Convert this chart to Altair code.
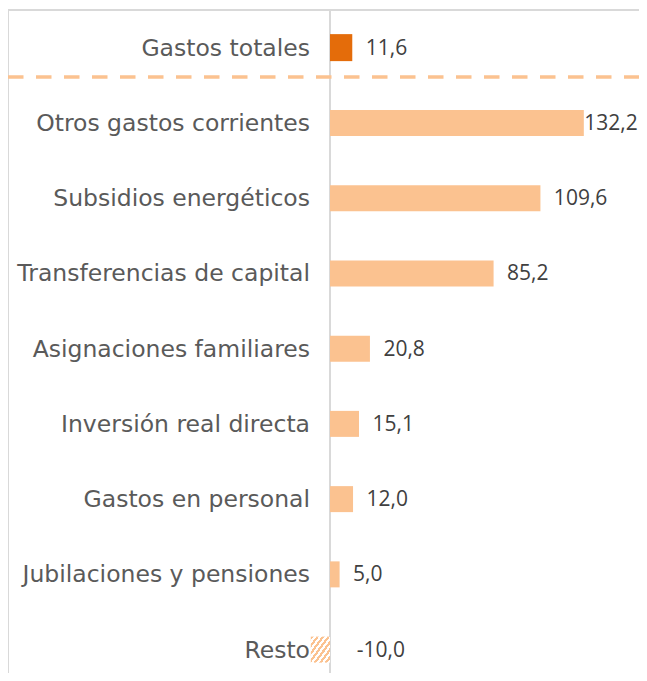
import altair as alt
import pandas as pd

categories = ["Gastos totales", "Otros gastos corrientes", "Subsidios energéticos",
              "Transferencias de capital", "Asignaciones familiares",
              "Inversión real directa", "Gastos en personal",
              "Jubilaciones y pensiones", "Resto"]
values = [11.6, 132.2, 109.6, 85.2, 20.8, 15.1, 12.0, 5.0, -10.0]
groups = ["total", "comp", "comp", "comp", "comp", "comp", "comp", "comp", "resto"]

df = pd.DataFrame({"cat": categories, "value": values, "group": groups})

W = 630
H = 663
STEP = 75.25
PX_PER_UNIT = 1.92
ZERO_PX = 321
x_dom = [-ZERO_PX / PX_PER_UNIT, (W - ZERO_PX) / PX_PER_UNIT]

CAT_FONT = "DejaVu Sans"
VAL_FONT = "Open Sans"
LIGHT = "#FBC290"
DARK = "#E46C0A"
GRID = "#D9D9D9"

xs = alt.Scale(domain=x_dom, nice=False, zero=False)
ys = alt.Scale(domain=categories, range=[0, STEP * len(categories)],
               paddingInner=0, paddingOuter=0)

base = alt.Chart(df).transform_calculate(
    zero="0",
    lx="datum.value < 0 ? 13.9 : min(datum.value + 7, 132.4)",
    lbl="(datum.value < 0 ? '-' : '') + replace(format(abs(datum.value), '.1f'), '.', ',')",
)
X = alt.X("value:Q", scale=xs, axis=None)
X2 = alt.X2("zero:Q")
Y = alt.Y("cat:N", scale=ys, axis=None, sort=categories)

one = alt.Chart(pd.DataFrame({"k": [0]}))
top_border = one.mark_rule(color=GRID, strokeWidth=2).encode(
    x=alt.value(-1), x2=alt.value(W), y=alt.value(0))
left_border = one.mark_rule(color=GRID, strokeWidth=2).encode(
    x=alt.value(-1), y=alt.value(-1), y2=alt.value(H))

zero_rule = base.transform_filter(alt.datum.group == "total").mark_rule(
    color=GRID, strokeWidth=2).encode(
    x=alt.X("zero:Q", scale=xs, axis=None), y=alt.value(0), y2=alt.value(H))

sep = base.transform_filter(alt.datum.group == "total").mark_rule(
    color=LIGHT, strokeWidth=3.6, strokeDash=[15.5, 12.5], yOffset=29.3
).encode(y=Y, x=alt.value(-1), x2=alt.value(W))

bars_total = base.transform_filter(alt.datum.group == "total").mark_bar(
    size=27, color=DARK).encode(x=X, x2=X2, y=Y)
bars_comp = base.transform_filter(alt.datum.group == "comp").mark_bar(
    size=26, color=LIGHT).encode(x=X, x2=X2, y=Y)

stops = []
n = 7
for i in range(n):
    a = i / n
    m = (i + 0.5) / n
    b = (i + 1) / n
    stops += [alt.GradientStop(color=LIGHT, offset=a), alt.GradientStop(color=LIGHT, offset=m),
              alt.GradientStop(color="#ffffff", offset=m), alt.GradientStop(color="#ffffff", offset=b)]
hatch = alt.LinearGradient(gradient="linear", stops=stops, x1=0, y1=0, x2=1, y2=1)
bars_resto = base.transform_filter(alt.datum.group == "resto").mark_bar(
    size=26, color=hatch).encode(x=X, x2=X2, y=Y)

cat_labels = base.mark_text(align="right", baseline="middle", dx=-20, dy=1,
                            font=CAT_FONT, fontSize=23.5, color="#5a5a5a").encode(
    x=alt.X("zero:Q", scale=xs, axis=None), y=Y, text="cat:N")

val_labels = base.mark_text(align="left", baseline="middle", dy=1, font=VAL_FONT, fontSize=21,
                            color="#404040").encode(
    x=alt.X("lx:Q", scale=xs, axis=None), y=Y, text="lbl:N")

chart = alt.layer(top_border, left_border, zero_rule, sep, bars_total, bars_comp,
                  bars_resto, cat_labels, val_labels).properties(
    width=W, height=H,
    autosize=alt.AutoSizeParams(type="none"),
    padding={"left": 1, "top": 2, "right": 0, "bottom": 0},
).configure_view(stroke="transparent")

chart.save("out.html", embed_options={"renderer": "svg", "actions": False})
